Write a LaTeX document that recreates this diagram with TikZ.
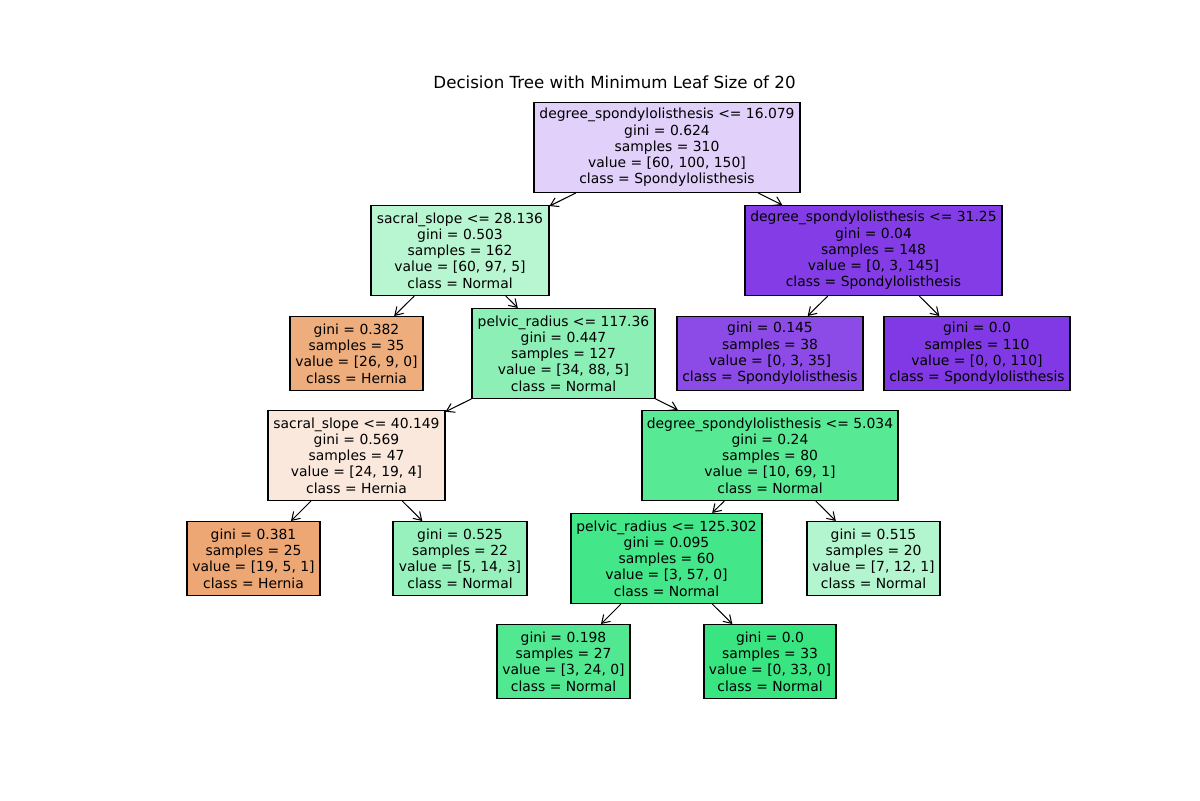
\documentclass[tikz,border=0pt]{standalone}
\usepackage{fontspec}
\setmainfont{DejaVu Sans}
\usetikzlibrary{arrows.meta}
\definecolor{c0}{RGB}{225,208,249}
\definecolor{c1}{RGB}{183,246,209}
\definecolor{c2}{RGB}{132,61,230}
\definecolor{c3}{RGB}{238,173,125}
\definecolor{c4}{RGB}{140,240,182}
\definecolor{c5}{RGB}{140,74,231}
\definecolor{c6}{RGB}{129,57,229}
\definecolor{c7}{RGB}{250,232,220}
\definecolor{c8}{RGB}{88,233,149}
\definecolor{c9}{RGB}{237,167,116}
\definecolor{c10}{RGB}{150,241,188}
\definecolor{c11}{RGB}{67,230,136}
\definecolor{c12}{RGB}{179,245,206}
\definecolor{c13}{RGB}{82,232,145}
\definecolor{c14}{RGB}{57,229,129}
\tikzset{
  tn/.style={draw=black, line width=0.75pt, inner sep=0pt, align=center,
    font=\fontsize{10}{11.7}\selectfont},
  sz/.style 2 args={minimum width=#1*0.72pt, minimum height=#2*0.72pt},
  arr/.style={-{Straight Barb[length=5.5pt,width=7pt]}, line width=0.75pt, black},
  ttl/.style={font=\fontsize{12}{14}\selectfont}
}
\begin{document}
\begin{tikzpicture}[x=0.72pt,y=-0.72pt]
\useasboundingbox[fill=white] (0,0) rectangle (1200,800);
\node[ttl] (title) at (614.5,82) {Decision Tree with Minimum Leaf Size of 20};
\node[tn,sz={266}{90},fill=c0] (r) at (667,147.5) {degree\_spondylolisthesis <= 16.079\\gini = 0.624\\samples = 310\\value = [60, 100, 150]\\class = Spondylolisthesis};
\node[tn,sz={178}{90},fill=c1] (a) at (460,250.5) {sacral\_slope <= 28.136\\gini = 0.503\\samples = 162\\value = [60, 97, 5]\\class = Normal};
\node[tn,sz={257}{90},fill=c2] (b) at (873.5,250.5) {degree\_spondylolisthesis <= 31.25\\gini = 0.04\\samples = 148\\value = [0, 3, 145]\\class = Spondylolisthesis};
\node[tn,sz={133}{74},fill=c3] (c) at (356.5,353.5) {gini = 0.382\\samples = 35\\value = [26, 9, 0]\\class = Hernia};
\node[tn,sz={183}{90},fill=c4] (d) at (563.5,353.5) {pelvic\_radius <= 117.36\\gini = 0.447\\samples = 127\\value = [34, 88, 5]\\class = Normal};
\node[tn,sz={186}{74},fill=c5] (e) at (770,353.5) {gini = 0.145\\samples = 38\\value = [0, 3, 35]\\class = Spondylolisthesis};
\node[tn,sz={186}{74},fill=c6] (f) at (977,353.5) {gini = 0.0\\samples = 110\\value = [0, 0, 110]\\class = Spondylolisthesis};
\node[tn,sz={177}{90},fill=c7] (g) at (356.5,455.5) {sacral\_slope <= 40.149\\gini = 0.569\\samples = 47\\value = [24, 19, 4]\\class = Hernia};
\node[tn,sz={256}{90},fill=c8] (h) at (770,455.5) {degree\_spondylolisthesis <= 5.034\\gini = 0.24\\samples = 80\\value = [10, 69, 1]\\class = Normal};
\node[tn,sz={133}{74},fill=c9] (i) at (253.5,558.5) {gini = 0.381\\samples = 25\\value = [19, 5, 1]\\class = Hernia};
\node[tn,sz={134}{74},fill=c10] (j) at (460,558.5) {gini = 0.525\\samples = 22\\value = [5, 14, 3]\\class = Normal};
\node[tn,sz={191}{90},fill=c11] (k) at (666.5,558.5) {pelvic\_radius <= 125.302\\gini = 0.095\\samples = 60\\value = [3, 57, 0]\\class = Normal};
\node[tn,sz={133}{74},fill=c12] (l) at (873.5,558.5) {gini = 0.515\\samples = 20\\value = [7, 12, 1]\\class = Normal};
\node[tn,sz={133}{74},fill=c13] (m) at (563.5,661.5) {gini = 0.198\\samples = 27\\value = [3, 24, 0]\\class = Normal};
\node[tn,sz={132}{74},fill=c14] (n) at (770,661.5) {gini = 0.0\\samples = 33\\value = [0, 33, 0]\\class = Normal};
\foreach \p/\q in {r/a,r/b,a/c,a/d,b/e,b/f,d/g,d/h,g/i,g/j,h/k,h/l,k/m,k/n}
  \draw[arr] (\p) -- (\q);
\end{tikzpicture}
\end{document}
